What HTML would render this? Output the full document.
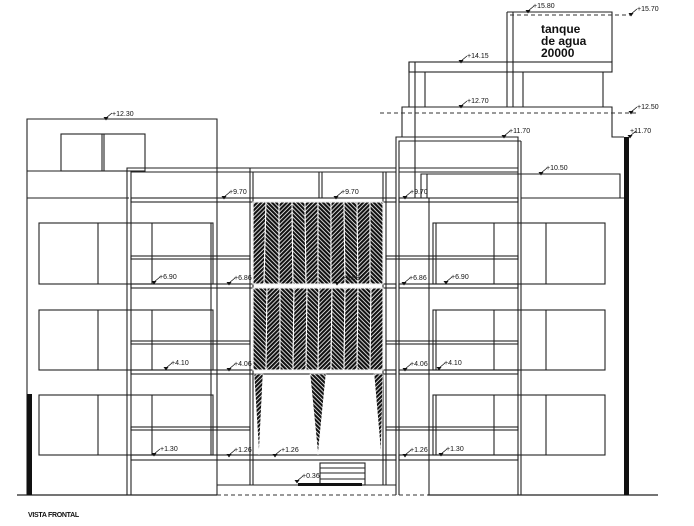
<!DOCTYPE html>
<html><head><meta charset="utf-8"><style>
html,body{margin:0;padding:0;background:#fff;}
svg{display:block}
text{font-family:"Liberation Sans",sans-serif;font-size:7px;fill:#111;}
</style></head><body>
<svg width="694" height="526" viewBox="0 0 694 526" xmlns="http://www.w3.org/2000/svg">
<defs>
<pattern id="hA" width="3" height="3" patternUnits="userSpaceOnUse" patternTransform="rotate(45)">
<rect width="3" height="3" fill="#fff"/><rect width="2.2" height="3" fill="#111"/></pattern>
<pattern id="hB" width="3" height="3" patternUnits="userSpaceOnUse" patternTransform="rotate(-45)">
<rect width="3" height="3" fill="#fff"/><rect width="2.2" height="3" fill="#111"/></pattern>
<g id="mk"><path d="M0,0 L6,-5" stroke="#111" stroke-width="0.8"/><path d="M-2.5,-1 L2.5,-1 L0,2.5 Z" fill="#111"/></g>
</defs>
<g fill="none" stroke="#222" stroke-width="1.1">
<path d="M27,495 V119 H217 V495"/>
<rect x="61" y="134" width="84" height="37"/><line x1="102" y1="134" x2="102" y2="171"/><line x1="104" y1="134" x2="104" y2="171"/>
<line x1="27" y1="171" x2="129" y2="171"/><line x1="27" y1="198" x2="129" y2="198"/>
<rect x="39" y="223" width="174" height="61"/><line x1="98" y1="223" x2="98" y2="284"/><line x1="152" y1="223" x2="152" y2="284"/>
<rect x="39" y="310" width="174" height="60"/><line x1="98" y1="310" x2="98" y2="370"/><line x1="152" y1="310" x2="152" y2="370"/>
<rect x="39" y="395" width="174" height="60"/><line x1="98" y1="395" x2="98" y2="455"/><line x1="152" y1="395" x2="152" y2="455"/>
<line x1="211" y1="223" x2="211" y2="455"/>
<path d="M127,495 V168 H396"/><path d="M131,495 V172 H396"/>
<line x1="250" y1="168" x2="250" y2="485"/><line x1="253" y1="172" x2="253" y2="485"/>
<line x1="319" y1="172" x2="319" y2="198"/><line x1="322" y1="172" x2="322" y2="198"/>
<line x1="383" y1="172" x2="383" y2="485"/><line x1="386" y1="172" x2="386" y2="485"/>
<rect x="131" y="198" width="265" height="4"/>
<rect x="131" y="256" width="119" height="3"/>
<rect x="131" y="284" width="265" height="4"/>
<rect x="131" y="341" width="119" height="3"/>
<rect x="131" y="370" width="265" height="4"/>
<rect x="131" y="427" width="119" height="3"/>
<rect x="131" y="455" width="265" height="5"/>
<line x1="217" y1="485" x2="396" y2="485"/>
<path d="M396,495 V137 H518 V495"/><path d="M399,495 V141 H521"/><line x1="521" y1="141" x2="521" y2="495"/>
<line x1="399" y1="168" x2="518" y2="168"/><line x1="399" y1="172" x2="518" y2="172"/>
<rect x="399" y="198" width="119" height="4"/>
<rect x="386" y="256" width="132" height="3"/>
<rect x="399" y="284" width="119" height="4"/>
<rect x="386" y="341" width="132" height="3"/>
<rect x="399" y="370" width="119" height="4"/>
<rect x="386" y="427" width="132" height="3"/>
<rect x="399" y="455" width="119" height="5"/>
<line x1="429" y1="198" x2="429" y2="495"/>
<rect x="433" y="223" width="172" height="61"/><line x1="436" y1="223" x2="436" y2="284"/><line x1="494" y1="223" x2="494" y2="284"/><line x1="546" y1="223" x2="546" y2="284"/>
<rect x="433" y="310" width="172" height="60"/><line x1="436" y1="310" x2="436" y2="370"/><line x1="494" y1="310" x2="494" y2="370"/><line x1="546" y1="310" x2="546" y2="370"/>
<rect x="433" y="395" width="172" height="60"/><line x1="436" y1="395" x2="436" y2="455"/><line x1="494" y1="395" x2="494" y2="455"/><line x1="546" y1="395" x2="546" y2="455"/>
<path d="M421,198 V174 H620 V198"/><line x1="427" y1="174" x2="427" y2="198"/><line x1="521" y1="198" x2="624" y2="198"/>
<path d="M402,137 V107 H612 V137 H624"/>
<line x1="409" y1="62" x2="409" y2="107"/><line x1="415" y1="62" x2="415" y2="198"/>
<rect x="409" y="62" width="203" height="10"/>
<line x1="425" y1="72" x2="425" y2="107"/><line x1="507" y1="12" x2="507" y2="107"/><line x1="513" y1="12" x2="513" y2="107"/><line x1="523" y1="72" x2="523" y2="107"/><line x1="603" y1="72" x2="603" y2="107"/>
<path d="M507,12 H612 V62"/>
<rect x="320" y="463" width="45" height="22"/><line x1="320" y1="468" x2="365" y2="468"/><line x1="320" y1="473" x2="365" y2="473"/><line x1="320" y1="479" x2="365" y2="479"/>
</g>
<g stroke="#333" stroke-width="1" stroke-dasharray="4,3" fill="none">
<line x1="510" y1="15" x2="632" y2="15"/>
<line x1="380" y1="113" x2="636" y2="113"/>
<line x1="217" y1="495" x2="428" y2="495"/>
</g>
<g stroke="#fff" stroke-width="1.1">
<polygon points="253,202 266,202 264,284 253,284" fill="url(#hA)"/>
<polygon points="266,202 279,202 279,284 264,284" fill="url(#hB)"/>
<polygon points="279,202 292,202 293,284 279,284" fill="url(#hA)"/>
<polygon points="292,202 305,202 306,284 293,284" fill="url(#hB)"/>
<polygon points="305,202 318,202 318,284 306,284" fill="url(#hA)"/>
<polygon points="318,202 331,202 331,284 318,284" fill="url(#hB)"/>
<polygon points="331,202 344,202 345,284 331,284" fill="url(#hA)"/>
<polygon points="344,202 357,202 358,284 345,284" fill="url(#hB)"/>
<polygon points="357,202 370,202 370,284 358,284" fill="url(#hA)"/>
<polygon points="370,202 383,202 383,284 370,284" fill="url(#hB)"/>
<polygon points="253,288 267,288 266,370 253,370" fill="url(#hB)"/>
<polygon points="267,288 280,288 280,370 266,370" fill="url(#hA)"/>
<polygon points="280,288 294,288 293,370 280,370" fill="url(#hB)"/>
<polygon points="294,288 307,288 306,370 293,370" fill="url(#hA)"/>
<polygon points="307,288 319,288 318,370 306,370" fill="url(#hB)"/>
<polygon points="319,288 332,288 331,370 318,370" fill="url(#hA)"/>
<polygon points="332,288 345,288 344,370 331,370" fill="url(#hB)"/>
<polygon points="345,288 358,288 357,370 344,370" fill="url(#hA)"/>
<polygon points="358,288 371,288 370,370 357,370" fill="url(#hB)"/>
<polygon points="371,288 383,288 383,370 370,370" fill="url(#hA)"/>
</g>
<g stroke="#fff" stroke-width="0.6">
<polygon points="254,374 263,374 259,455" fill="url(#hA)"/>
<polygon points="310,374 326,374 318,455" fill="url(#hB)"/>
<polygon points="374,374 383,374 381,455" fill="url(#hA)"/>
</g>
<g stroke="#222" stroke-width="1.2">
<line x1="17" y1="495" x2="217" y2="495"/><line x1="428" y1="495" x2="658" y2="495"/>
</g>
<rect x="27" y="394" width="5" height="101" fill="#111"/>
<rect x="624" y="137" width="5" height="358" fill="#111"/>
<rect x="298" y="483" width="64" height="3" fill="#111"/>
<text x="541" y="33" style="font-size:12px;font-weight:bold">tanque</text>
<text x="541" y="45" style="font-size:12px;font-weight:bold">de agua</text>
<text x="541" y="57" style="font-size:12px;font-weight:bold">20000</text>
<use href="#mk" x="106" y="118"/><text x="112" y="116">+12.30</text>
<use href="#mk" x="528" y="11"/><text x="533" y="8">+15.80</text>
<use href="#mk" x="631" y="14"/><text x="637" y="11">+15.70</text>
<use href="#mk" x="461" y="61"/><text x="467" y="58">+14.15</text>
<use href="#mk" x="461" y="106"/><text x="467" y="103">+12.70</text>
<use href="#mk" x="631" y="112"/><text x="637" y="109">+12.50</text>
<use href="#mk" x="504" y="136"/><text x="509" y="133">+11.70</text>
<use href="#mk" x="630" y="136"/><text x="630" y="133">+11.70</text>
<use href="#mk" x="541" y="173"/><text x="546" y="170">+10.50</text>
<use href="#mk" x="224" y="197"/><text x="229" y="194">+9.70</text>
<use href="#mk" x="336" y="197"/><text x="341" y="194">+9.70</text>
<use href="#mk" x="405" y="197"/><text x="410" y="194">+9.70</text>
<use href="#mk" x="154" y="282"/><text x="159" y="279">+6.90</text>
<use href="#mk" x="229" y="283"/><text x="234" y="280">+6.86</text>
<use href="#mk" x="337" y="283"/><text x="342" y="280">+6.88</text>
<use href="#mk" x="404" y="283"/><text x="409" y="280">+6.86</text>
<use href="#mk" x="446" y="282"/><text x="451" y="279">+6.90</text>
<use href="#mk" x="166" y="368"/><text x="171" y="365">+4.10</text>
<use href="#mk" x="229" y="369"/><text x="234" y="366">+4.06</text>
<use href="#mk" x="405" y="369"/><text x="410" y="366">+4.06</text>
<use href="#mk" x="439" y="368"/><text x="444" y="365">+4.10</text>
<use href="#mk" x="154" y="454"/><text x="160" y="451">+1.30</text>
<use href="#mk" x="229" y="455"/><text x="234" y="452">+1.26</text>
<use href="#mk" x="275" y="455"/><text x="281" y="452">+1.26</text>
<use href="#mk" x="405" y="455"/><text x="410" y="452">+1.26</text>
<use href="#mk" x="441" y="454"/><text x="446" y="451">+1.30</text>
<use href="#mk" x="297" y="481"/><text x="302" y="478">+0.36</text>
<text x="28" y="517" style="font-size:7px;font-weight:bold;letter-spacing:-0.3px">VISTA FRONTAL</text>
</svg>
</body></html>
